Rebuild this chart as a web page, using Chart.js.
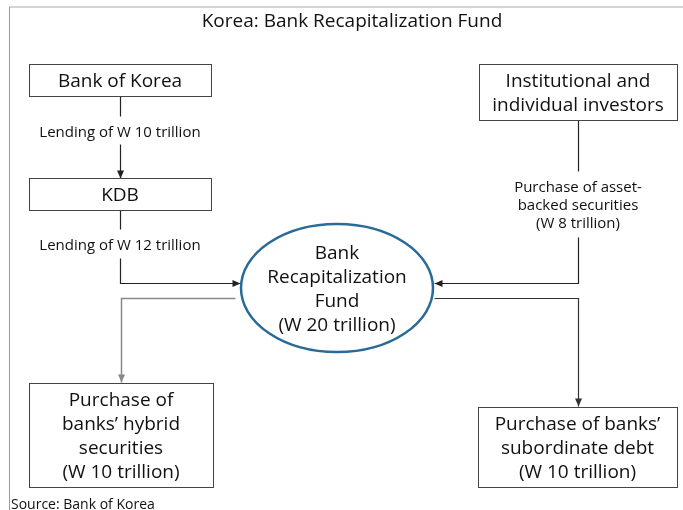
<!DOCTYPE html>
<html>
<head>
<meta charset="utf-8">
<script src="https://cdn.jsdelivr.net/npm/chart.js@4"></script>
<style>
  html, body { margin: 0; padding: 0; background: #fff; }
  canvas { display: block; }
</style>
</head>
<body>
<canvas id="chartCanvas" width="683" height="510"></canvas>
<script>
// Texte und Beträge (Billionen Won)
const chartTitle = 'Korea: Bank Recapitalization Fund';
const sourceNote = 'Source: Bank of Korea';
const amountsTrillion = [10, 12, 8, 20, 10, 10];

const nodeText = [
    ['Bank of Korea'],
    ['KDB'],
    ['Institutional and', 'individual investors'],
    ['Bank', 'Recapitalization', 'Fund', '(W ' + amountsTrillion[3] + ' trillion)'],
    ['Purchase of', 'banks\u2019 hybrid', 'securities', '(W ' + amountsTrillion[4] + ' trillion)'],
    ['Purchase of banks\u2019', 'subordinate debt', '(W ' + amountsTrillion[5] + ' trillion)']
];
const edgeText = [
    ['Lending of W ' + amountsTrillion[0] + ' trillion'],
    ['Lending of W ' + amountsTrillion[1] + ' trillion'],
    ['Purchase of asset-', 'backed securities', '(W ' + amountsTrillion[2] + ' trillion)']
];

// Layout in Achsen-Einheiten (0..683, 0..510)
const nodeBoxes = [
    { x1: 29, y1: 64, x2: 211, y2: 96, shape: 'rect' },
    { x1: 29, y1: 178, x2: 211, y2: 210, shape: 'rect' },
    { x1: 479, y1: 64, x2: 677, y2: 120, shape: 'rect' },
    { x1: 241, y1: 224, x2: 433, y2: 352, shape: 'ellipse' },
    { x1: 29, y1: 383, x2: 213, y2: 487, shape: 'rect' },
    { x1: 478, y1: 407, x2: 677, y2: 487, shape: 'rect' }
];
const edgeLabelPos = [
    { x: 120, y: 131 },
    { x: 120, y: 244 },
    { x: 578, y: 186 }
];
const connectors = [
    { pts: [[120, 96], [120, 116]], arrow: false, color: '#222' },
    { pts: [[120, 144], [120, 178]], arrow: true, color: '#222' },
    { pts: [[120, 210], [120, 229]], arrow: false, color: '#222' },
    { pts: [[120, 258], [120, 283], [240, 283]], arrow: true, color: '#222' },
    { pts: [[578, 120], [578, 171]], arrow: false, color: '#222' },
    { pts: [[578, 237], [578, 283], [434, 283]], arrow: true, color: '#222' },
    { pts: [[235, 298], [121, 298], [121, 382]], arrow: true, color: '#888' },
    { pts: [[434, 298], [578, 298], [578, 406]], arrow: true, color: '#333' }
];

const FONT = '"Open Sans", Lato, sans-serif';
const TEXT_DY = 2; // Open Sans sitzt bei 'middle' etwas hoch

const diagramPlugin = {
    id: 'diagram',
    afterDraw(chart) {
        const ctx = chart.ctx;
        const sx = v => chart.scales.x.getPixelForValue(v);
        const sy = v => chart.scales.y.getPixelForValue(v);

        ctx.save();
        // Rahmen
        ctx.strokeStyle = '#d4d4d4';
        ctx.lineWidth = 2;
        ctx.beginPath();
        ctx.moveTo(sx(9), sy(7));
        ctx.lineTo(sx(683), sy(7));
        ctx.stroke();
        ctx.strokeStyle = '#9a9a9a';
        ctx.lineWidth = 1;
        ctx.beginPath();
        ctx.moveTo(sx(9) + 0.5, sy(7));
        ctx.lineTo(sx(9) + 0.5, sy(510));
        ctx.stroke();

        ctx.fillStyle = '#111';
        ctx.textAlign = 'center';
        ctx.textBaseline = 'middle';
        ctx.font = '19px ' + FONT;
        ctx.fillText(chartTitle, sx(352), sy(20) + TEXT_DY);

        // Verbindungen
        connectors.forEach(c => {
            ctx.strokeStyle = c.color;
            ctx.fillStyle = c.color;
            ctx.lineWidth = c.color === '#888' ? 1.5 : 1.2;
            ctx.beginPath();
            c.pts.forEach((p, i) => {
                const px = Math.round(sx(p[0])) + 0.5, py = Math.round(sy(p[1])) + 0.5;
                if (i === 0) ctx.moveTo(px, py); else ctx.lineTo(px, py);
            });
            ctx.stroke();
            if (c.arrow) {
                const a = c.pts[c.pts.length - 2], b = c.pts[c.pts.length - 1];
                const bx = Math.round(sx(b[0])) + 0.5, by = Math.round(sy(b[1])) + 0.5;
                const ang = Math.atan2(sy(b[1]) - sy(a[1]), sx(b[0]) - sx(a[0]));
                ctx.beginPath();
                ctx.moveTo(bx, by);
                ctx.lineTo(bx - 8 * Math.cos(ang) + 3.5 * Math.sin(ang), by - 8 * Math.sin(ang) - 3.5 * Math.cos(ang));
                ctx.lineTo(bx - 8 * Math.cos(ang) - 3.5 * Math.sin(ang), by - 8 * Math.sin(ang) + 3.5 * Math.cos(ang));
                ctx.closePath();
                ctx.fill();
            }
        });

        // Knoten
        nodeBoxes.forEach((b, i) => {
            const x1 = sx(b.x1), x2 = sx(b.x2), y1 = sy(b.y1), y2 = sy(b.y2);
            ctx.fillStyle = '#fff';
            if (b.shape === 'ellipse') {
                ctx.strokeStyle = '#2a6a97';
                ctx.lineWidth = 2.5;
                ctx.beginPath();
                ctx.ellipse((x1 + x2) / 2, (y1 + y2) / 2, (x2 - x1) / 2, (y2 - y1) / 2, 0, 0, Math.PI * 2);
                ctx.fill();
                ctx.stroke();
            } else {
                ctx.strokeStyle = '#444';
                ctx.lineWidth = 1;
                ctx.fillRect(x1, y1, x2 - x1, y2 - y1);
                ctx.strokeRect(Math.round(x1) + 0.5, Math.round(y1) + 0.5, Math.round(x2 - x1), Math.round(y2 - y1));
            }
            const lines = nodeText[i];
            const lh = 24;
            const cy = (y1 + y2) / 2 - (lines.length - 1) * lh / 2 + TEXT_DY;
            ctx.fillStyle = '#111';
            ctx.font = '19px ' + FONT;
            lines.forEach((t, k) => ctx.fillText(t, (x1 + x2) / 2, cy + k * lh));
        });

        // Beschriftungen der Pfeile
        ctx.font = '15px ' + FONT;
        edgeText.forEach((lines, i) => {
            const p = edgeLabelPos[i];
            lines.forEach((t, k) => ctx.fillText(t, sx(p.x), sy(p.y) + TEXT_DY + k * 18));
        });

        ctx.textAlign = 'left';
        ctx.font = '14px ' + FONT;
        ctx.fillText(sourceNote, sx(11), sy(503) + TEXT_DY);
        ctx.restore();
    }
};

const ctx = document.getElementById('chartCanvas').getContext('2d');
const chartInstance = new Chart(ctx, {
    type: 'scatter',
    data: { datasets: [{ data: [], pointRadius: 0 }] },
    options: {
        responsive: false,
        animation: false,
        layout: { padding: 0 },
        plugins: { legend: { display: false }, tooltip: { enabled: false } },
        scales: {
            x: { type: 'linear', min: 0, max: 683, display: false },
            y: { type: 'linear', min: 0, max: 510, reverse: true, display: false }
        }
    },
    plugins: [diagramPlugin]
});
</script>
</body>
</html>
